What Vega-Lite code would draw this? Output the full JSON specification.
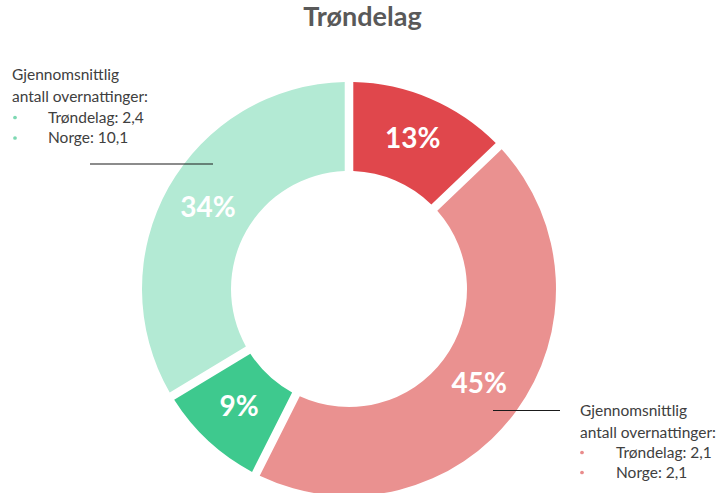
{
  "$schema": "https://vega.github.io/schema/vega-lite/v6.json",
  "width": 725,
  "height": 453,
  "autosize": "none",
  "padding": {"top": 40, "left": 0, "right": 0, "bottom": 0},
  "background": "white",
  "title": {"text": "Trøndelag", "font": "Lato", "fontSize": 27, "fontWeight": "bold", "color": "#595959", "anchor": "middle", "offset": 8},
  "config": {"view": {"stroke": null}},
  "datasets": {
    "slices": [
      {"order": 1, "group": "A", "share": 13, "label": "13%"},
      {"order": 2, "group": "B", "share": 45, "label": "45%"},
      {"order": 3, "group": "C", "share": 9, "label": "9%"},
      {"order": 4, "group": "D", "share": 34, "label": "34%"}
    ],
    "notes": [
      {"ax": 12, "ay": 75, "text": "Gjennomsnittlig"},
      {"ax": 12, "ay": 96.5, "text": "antall overnattinger:"},
      {"ax": 48, "ay": 117.5, "text": "Trøndelag: 2,4"},
      {"ax": 48, "ay": 138, "text": "Norge: 10,1"},
      {"ax": 580, "ay": 411, "text": "Gjennomsnittlig"},
      {"ax": 580, "ay": 432.5, "text": "antall overnattinger:"},
      {"ax": 616, "ay": 452.5, "text": "Trøndelag: 2,1"},
      {"ax": 616, "ay": 472.5, "text": "Norge: 2,1"}
    ],
    "bullets": [
      {"ax": 15, "ay": 117.5, "kind": "green"},
      {"ax": 15, "ay": 138, "kind": "green"},
      {"ax": 582, "ay": 452.5, "kind": "red"},
      {"ax": 582, "ay": 472.5, "kind": "red"}
    ],
    "leaders": [
      {"ax": 90, "ax2": 213, "ay": 164},
      {"ax": 493, "ax2": 560, "ay": 410.5}
    ]
  },
  "layer": [
    {
      "data": {"name": "slices"},
      "mark": {"type": "arc", "outerRadius": 207, "innerRadius": 118, "padAngle": 0.036},
      "encoding": {
        "x": {"datum": 349, "type": "quantitative", "scale": {"domain": [0, 725], "nice": false, "zero": false}, "axis": null},
        "y": {"datum": 289, "type": "quantitative", "scale": {"domain": [493, 40], "nice": false, "zero": false}, "axis": null},
        "theta": {"field": "share", "type": "quantitative", "stack": true},
        "order": {"field": "order", "type": "quantitative"},
        "color": {"field": "group", "type": "nominal", "legend": null,
          "scale": {"domain": ["A", "B", "C", "D"], "range": ["#E0474C", "#EA9190", "#3EC98E", "#B3EAD4"]}}
      }
    },
    {
      "data": {"name": "slices"},
      "mark": {"type": "text", "radius": 162, "font": "Lato", "fontSize": 28, "fontWeight": "bold", "color": "white"},
      "encoding": {
        "x": {"datum": 349, "type": "quantitative"},
        "y": {"datum": 289, "type": "quantitative"},
        "theta": {"field": "share", "type": "quantitative", "stack": true},
        "order": {"field": "order", "type": "quantitative"},
        "text": {"field": "label", "type": "nominal"}
      }
    },
    {
      "data": {"name": "leaders"},
      "mark": {"type": "rule", "color": "#1a1a1a", "strokeWidth": 1.2},
      "encoding": {
        "x": {"field": "ax", "type": "quantitative"},
        "x2": {"field": "ax2"},
        "y": {"field": "ay", "type": "quantitative"}
      }
    },
    {
      "data": {"name": "notes"},
      "mark": {"type": "text", "align": "left", "baseline": "middle", "font": "Lato", "fontSize": 15.5, "color": "#404040"},
      "encoding": {
        "x": {"field": "ax", "type": "quantitative"},
        "y": {"field": "ay", "type": "quantitative"},
        "text": {"field": "text", "type": "nominal"}
      }
    },
    {
      "data": {"name": "bullets"},
      "mark": {"type": "point", "shape": "circle", "filled": true, "size": 14, "opacity": 1},
      "encoding": {
        "x": {"field": "ax", "type": "quantitative"},
        "y": {"field": "ay", "type": "quantitative"},
        "color": {"field": "kind", "type": "nominal", "legend": null,
          "scale": {"domain": ["green", "red"], "range": ["#7DD8B2", "#E98C8C"]}}
      }
    }
  ],
  "resolve": {"scale": {"color": "independent"}}
}
